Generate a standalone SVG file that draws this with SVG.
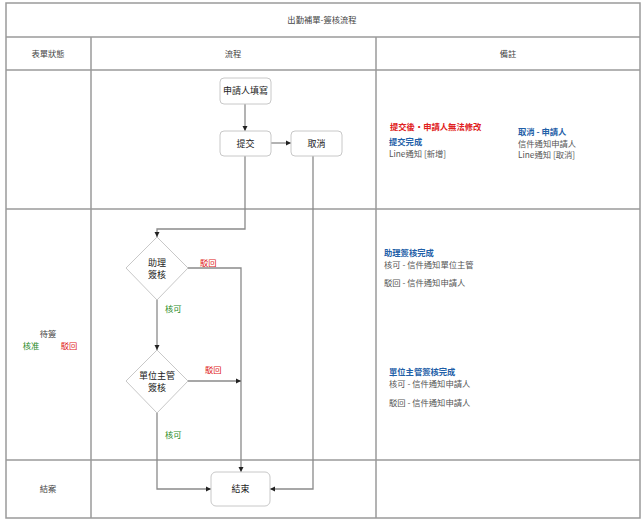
<svg xmlns="http://www.w3.org/2000/svg" width="643" height="523" viewBox="0 0 643 523">
<style>
text{font-family:"Noto Sans CJK TC","Noto Sans CJK SC","Liberation Sans",sans-serif;font-size:8.3px;fill:#333}
.grid{stroke:#9a9a9a;stroke-width:1.5;fill:none}
.hd{fill:#444;text-anchor:middle}
.node{fill:#fff;stroke:#c8c8c8;stroke-width:1}
.nt{text-anchor:middle;font-size:9px;fill:#222}
.conn{stroke:#8a8a8a;stroke-width:1.3;fill:none}
.red{fill:#e02020}
.green{fill:#1e8a1e}
.blue{fill:#1f5fa8;font-weight:bold}
.rb{fill:#e02020;font-weight:bold}
.note{fill:#555}
</style>
<defs>
<marker id="arr" viewBox="0 0 6 6" refX="6" refY="3" markerWidth="4" markerHeight="4" orient="auto"><path d="M0,0L6,3L0,6z" fill="#222"/></marker>
</defs>
<rect width="643" height="523" fill="#fff"/>
<g id="table">
<rect class="grid" x="6" y="3" width="634" height="515"/>
<line class="grid" x1="6" y1="37" x2="640" y2="37"/>
<line class="grid" x1="6" y1="70" x2="640" y2="70"/>
<line class="grid" x1="6" y1="209" x2="640" y2="209"/>
<line class="grid" x1="6" y1="460" x2="640" y2="460"/>
<line class="grid" x1="91" y1="37" x2="91" y2="518"/>
<line class="grid" x1="376" y1="37" x2="376" y2="518"/>
<text class="hd" x="322" y="23">出勤補單-簽核流程</text>
<text class="hd" x="48" y="57">表單狀態</text>
<text class="hd" x="233" y="57">流程</text>
<text class="hd" x="508" y="57">備註</text>
<text class="hd" x="48" y="337">待簽</text>
<text class="green" x="31" y="349" text-anchor="middle">核准</text>
<text class="red" x="69" y="349" text-anchor="middle">駁回</text>
<text class="hd" x="48" y="492">結案</text>
</g>
<g id="connectors">
<line class="conn" x1="245" y1="104" x2="245" y2="131" marker-end="url(#arr)"/>
<line class="conn" x1="271" y1="143" x2="291" y2="143" marker-end="url(#arr)"/>
<polyline class="conn" points="245,156 245,229 157,229 157,237" marker-end="url(#arr)"/>
<line class="conn" x1="157" y1="300" x2="157" y2="350" marker-end="url(#arr)"/>
<polyline class="conn" points="188,268 241,268 241,472" marker-end="url(#arr)"/>
<line class="conn" x1="188" y1="381" x2="241" y2="381" marker-end="url(#arr)"/>
<polyline class="conn" points="157,413 157,489 211,489" marker-end="url(#arr)"/>
<polyline class="conn" points="313,156 313,489 270,489" marker-end="url(#arr)"/>
<text class="red" x="200" y="266">駁回</text>
<text class="green" x="165" y="312">核可</text>
<text class="red" x="205" y="373">駁回</text>
<text class="green" x="165" y="438">核可</text>
</g>
<g id="n-apply">
<rect class="node" x="220" y="78" width="51" height="26" rx="4"/>
<text class="nt" x="245.5" y="94">申請人填寫</text>
</g>
<g id="n-submit">
<rect class="node" x="220" y="131" width="51" height="25" rx="4"/>
<text class="nt" x="245.5" y="146.5">提交</text>
</g>
<g id="n-cancel">
<rect class="node" x="291" y="131" width="51" height="25" rx="4"/>
<text class="nt" x="316.5" y="146.5">取消</text>
</g>
<g id="n-assist">
<polygon class="node" points="157,237 188,268 157,300 126,268"/>
<text class="nt" x="157" y="266">助理</text>
<text class="nt" x="157" y="278">簽核</text>
</g>
<g id="n-manager">
<polygon class="node" points="157,350 188,381 157,413 126,381"/>
<text class="nt" x="157" y="379">單位主管</text>
<text class="nt" x="157" y="391">簽核</text>
</g>
<g id="n-end">
<rect class="node" x="211" y="472" width="59" height="34" rx="5"/>
<text class="nt" x="240.5" y="492">結束</text>
</g>
<g id="notes">
<text class="rb" x="390" y="130">提交後・申請人無法修改</text>
<text class="blue" x="389" y="145">提交完成</text>
<text class="note" x="389" y="156.5">Line通知 [新增]</text>
<text class="blue" x="518" y="135">取消 - 申請人</text>
<text class="note" x="518" y="146.5">信件通知申請人</text>
<text class="note" x="518" y="158">Line通知 [取消]</text>
<text class="blue" x="384" y="256">助理簽核完成</text>
<text class="note" x="384" y="267.5">核可 - 信件通知單位主管</text>
<text class="note" x="384" y="286">駁回 - 信件通知申請人</text>
<text class="blue" x="389" y="375">單位主管簽核完成</text>
<text class="note" x="389" y="386.5">核可 - 信件通知申請人</text>
<text class="note" x="389" y="406">駁回 - 信件通知申請人</text>
</g>
</svg>
